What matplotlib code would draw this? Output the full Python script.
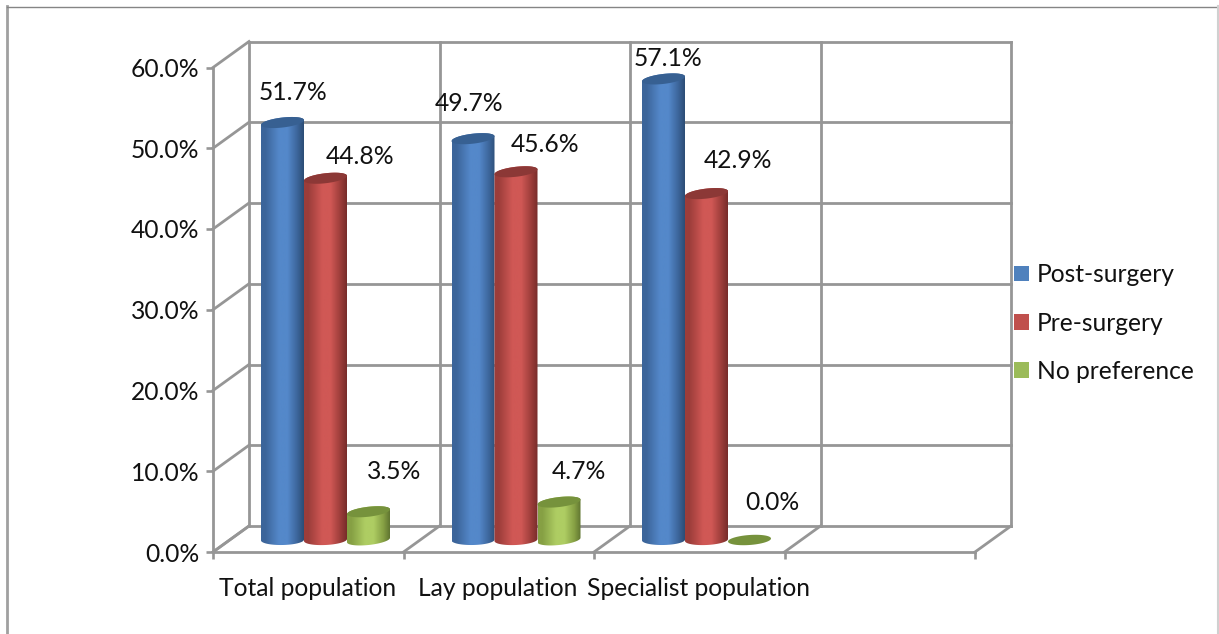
from matplotlib import pyplot as plt
from matplotlib.colors import LinearSegmentedColormap
from matplotlib.lines import Line2D
from matplotlib.patches import Patch, PathPatch, Polygon
from matplotlib.path import Path
import numpy as np

categories = ["Total population", "Lay population", "Specialist population"]
series_names = ["Post-surgery", "Pre-surgery", "No preference"]
post_surgery = [51.7, 49.7, 57.1]
pre_surgery = [44.8, 45.6, 42.9]
no_preference = [3.5, 4.7, 0.0]
y_ticks = [0, 10, 20, 30, 40, 50, 60]

WIDTH, HEIGHT = 1219, 634
GRID = "#969696"
FONT = "Lato"
FONT_SIZE = 17.7

# Colours per series: dark edge, mid tone, highlight, top cap, legend swatch
palettes = [
    ("#2c4d75", "#3c659a", "#5488ca", "#376092", "#4f81bd"),
    ("#772c2a", "#9c3d3a", "#d05855", "#8c3836", "#c0504d"),
    ("#5f7530", "#86a044", "#aecd63", "#76923c", "#9bbb59"),
]

# Label offsets in pixels from the top of each cylinder, per group and series
label_offsets = [
    [(10.5, 30), (34.5, 22), (26, 40)],
    [(-3.5, 35), (29.5, 27.5), (20, 31)],
    [(4.5, 20.5), (31.5, 33), (23, 37)],
]

fig = plt.figure(figsize=(WIDTH / 100, HEIGHT / 100), dpi=100)

# Axes cover the front plane of the box; the depth is added as an offset
left, right, bottom, top = 213, 975, 552, 67.5
ax = fig.add_axes([left / WIDTH, 1 - bottom / HEIGHT,
                   (right - left) / WIDTH, (bottom - top) / HEIGHT])
ax.set_xlim(0, 4)
ax.set_ylim(0, 60)
for spine in ax.spines.values():
    spine.set_visible(False)

px_x = (right - left) / 4
px_y = (bottom - top) / 60
depth_x = 36 / px_x
depth_y = 26 / px_y
base_y = 12 / px_y


def grid_line(xs, ys):
    ax.add_line(Line2D(xs, ys, color=GRID, lw=2.0, clip_on=False,
                       solid_capstyle="projecting", zorder=1))


# Back wall, floor and left wall of the box
for v in y_ticks:
    grid_line([depth_x, 4 + depth_x], [v + depth_y, v + depth_y])
    grid_line([0, depth_x], [v, v + depth_y])
for i in range(5):
    grid_line([i + depth_x, i + depth_x], [depth_y, 60 + depth_y])
    grid_line([i, i + depth_x], [0, depth_y])
grid_line([0, 4], [0, 0])
grid_line([0, 0], [0, 60])

ax.set_yticks(y_ticks)
ax.set_yticklabels([f"{v:.1f}%" for v in y_ticks], fontsize=FONT_SIZE,
                   family=FONT, color="#111111")
ax.set_xticks(range(5))
ax.set_xticklabels([])
ax.tick_params(axis="both", color=GRID, width=1.9, length=5, pad=3)
ax.tick_params(axis="y", pad=5)


def ellipse(cx, cy, tilt, start=0.0, stop=2 * np.pi):
    # Pixel-sized ellipse (half width 21.5, half height 5) in data units
    t = np.linspace(start, stop, 60)
    xs = cx + 21.5 * np.cos(t) / px_x
    ys = cy + (5 * np.sin(t) + tilt * np.cos(t)) / px_y
    return np.column_stack([xs, ys])


def draw_cylinder(cx, value, palette, bottom_tilt):
    dark, mid, light, cap, _ = palette
    half = 21.5 / px_x
    y0 = base_y
    y1 = base_y + value
    if value > 0:
        lower = ellipse(cx, y0, bottom_tilt, np.pi, 2 * np.pi)
        upper = ellipse(cx, y1, 2.4, 0, np.pi)
        outline = np.vstack([lower, upper, lower[:1]])
        body = PathPatch(Path(outline), transform=ax.transData,
                         fc="none", ec="none")
        ax.add_patch(body)
        cmap = LinearSegmentedColormap.from_list(
            "shade", [(0, mid), (0.1, mid), (0.42, light),
                      (0.62, light), (0.85, mid), (1, dark)])
        img = ax.imshow(np.linspace(0, 1, 128)[None, :], cmap=cmap, aspect="auto",
                        extent=(cx - half, cx + half, y0 - 1, y1 + 1), zorder=3)
        img.set_clip_path(body)
    ax.add_patch(Polygon(ellipse(cx, y1, 2.4 if value > 0 else 1.5), closed=True,
                         fc=cap, ec="none", clip_on=False, zorder=3))
    return y1


all_series = [post_surgery, pre_surgery, no_preference]
bottom_tilts = [0.4, 1.0, 2.2]
for g in range(len(categories)):
    for s, values in enumerate(all_series):
        cx = g + (69.5 + 43 * s) / px_x
        y1 = draw_cylinder(cx, values[g], palettes[s], bottom_tilts[s])
        dx, dy = label_offsets[g][s]
        ax.annotate(f"{values[g]:.1f}%", (cx, y1), xytext=(dx, dy),
                    textcoords="offset pixels", ha="center", va="center",
                    fontsize=FONT_SIZE, family=FONT, color="#111111",
                    annotation_clip=False, zorder=5)

ax.set_xlim(0, 4)
ax.set_ylim(0, 60)

# Category names sit under each group; the long last one is pushed right to fit
name_shift = [-1, -1, 9]
for i, name in enumerate(categories):
    ax.annotate(name, (i + 0.5, 0), xytext=(name_shift[i], -36),
                textcoords="offset pixels", ha="center", va="center",
                fontsize=FONT_SIZE, family=FONT, color="#111111",
                annotation_clip=False)

handles = [Patch(fc=p[4], ec="none") for p in palettes]
fig.legend(handles, series_names, loc="center left",
           bbox_to_anchor=(1009 / WIDTH, 1 - 323 / HEIGHT), frameon=False,
           prop={"family": FONT, "size": FONT_SIZE}, labelcolor="#111111",
           handlelength=0.62, handleheight=0.62, handletextpad=0.3,
           labelspacing=1.03, borderpad=0.2, borderaxespad=0)

# Outer chart frame
fig.add_artist(Line2D([7 / WIDTH, 7 / WIDTH], [0, 1 - 6 / HEIGHT], color="#a0a0a0", lw=2))
fig.add_artist(Line2D([7 / WIDTH, 1], [1 - 6.5 / HEIGHT, 1 - 6.5 / HEIGHT], color="#858585", lw=1))
fig.add_artist(Line2D([1218 / WIDTH, 1218 / WIDTH], [0, 1 - 6 / HEIGHT], color="#d0d0d0", lw=1.5))

fig.savefig("out.png", dpi=100)
